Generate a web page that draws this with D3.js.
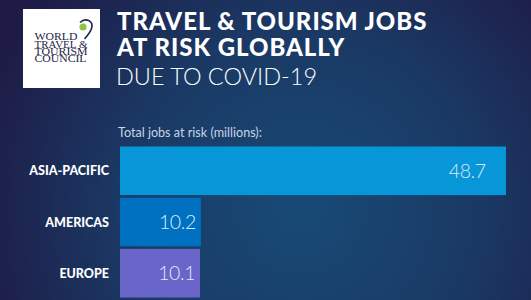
<!DOCTYPE html>
<html>
<head>
<meta charset="utf-8">
<script src="https://cdn.jsdelivr.net/npm/d3@7"></script>
<style>
  html, body { margin: 0; padding: 0; background: #1c1f48; }
  svg { display: block; }
</style>
</head>
<body>
<svg id="chart" width="531" height="300"></svg>
<script>
// Regions and jobs at risk (millions)
const regions = ["ASIA-PACIFIC", "AMERICAS", "EUROPE"];
const jobsAtRisk = [48.7, 10.2, 10.1];
const barColors = ["#0796d7", "#0070c0", "#6a65c8"];

const titleLines = ["TRAVEL & TOURISM JOBS", "AT RISK GLOBALLY"];
const subTitle = "DUE TO COVID-19";
const measureLabel = "Total jobs at risk (millions):";
const logoLines = ["WORLD", "TRAVEL &", "TOURISM", "COUNCIL"];
const logoLineWidths = [43, 53, 53, 52];

const W = 531, H = 300;
const svg = d3.select("#chart");

// Background: deep navy with a blue glow toward the lower middle
const defs = svg.append("defs");
const bg = defs.append("radialGradient")
  .attr("id", "bgGlow")
  .attr("gradientUnits", "userSpaceOnUse")
  .attr("cx", 300).attr("cy", 210).attr("r", 330);
bg.append("stop").attr("offset", 0).attr("stop-color", "#184a76");
bg.append("stop").attr("offset", 0.55).attr("stop-color", "#1a3964");
bg.append("stop").attr("offset", 1).attr("stop-color", "#1e1c47");
svg.append("rect").attr("width", W).attr("height", H).attr("fill", "url(#bgGlow)");

// Logo
const logo = svg.append("g");
logo.append("rect").attr("x", 23).attr("y", 9).attr("width", 77).attr("height", 79).attr("fill", "#ffffff");
logo.append("circle").attr("cx", 83).attr("cy", 27).attr("r", 3.6).attr("fill", "#8cc63f");
logo.append("path")
  .attr("d", "M80,22.5 C85,17.5 94,20 91.5,28.5 C90.5,32 88,35 84.5,39")
  .attr("fill", "none").attr("stroke", "#1d2545").attr("stroke-width", 1.6);
const logoText = logo.append("text")
  .attr("font-family", "Liberation Serif, serif")
  .attr("font-size", 10.6)
  .attr("fill", "#1d2545");
logoText.selectAll("tspan").data(logoLines).join("tspan")
  .attr("x", 34.5)
  .attr("y", (d, i) => 40.3 + i * 7.3)
  .attr("textLength", (d, i) => logoLineWidths[i])
  .attr("lengthAdjust", "spacingAndGlyphs")
  .text(d => d);

// Title block
svg.selectAll("text.title").data(titleLines).join("text")
  .attr("class", "title")
  .attr("x", 117)
  .attr("y", (d, i) => 30 + i * 26)
  .attr("font-family", "Lato, sans-serif")
  .attr("font-weight", 900)
  .attr("font-size", 24)
  .attr("letter-spacing", 0.95)
  .attr("fill", "#ffffff")
  .text(d => d);
svg.append("text")
  .attr("x", 116)
  .attr("y", 85)
  .attr("font-family", "Lato, sans-serif")
  .attr("font-weight", 300)
  .attr("font-size", 23.5)
  .attr("fill", "#ffffff")
  .text(subTitle);

svg.append("text")
  .attr("x", 118)
  .attr("y", 137)
  .attr("font-family", "Lato, sans-serif")
  .attr("font-weight", 400)
  .attr("font-size", 12.6)
  .attr("fill", "#c9d4e4")
  .text(measureLabel);

// Scales
const x = d3.scaleLinear().domain([0, d3.max(jobsAtRisk)]).range([120, 506]);
const y = d3.scaleBand().domain(regions).range([146.5, 297.5]).paddingInner(0.05).paddingOuter(0);

const rows = regions.map((r, i) => ({ region: r, value: jobsAtRisk[i], color: barColors[i] }));

svg.selectAll("rect.bar").data(rows).join("rect")
  .attr("class", "bar")
  .attr("x", x(0))
  .attr("y", d => y(d.region))
  .attr("width", d => x(d.value) - x(0))
  .attr("height", y.bandwidth())
  .attr("fill", d => d.color);

// Region labels
svg.selectAll("text.cat").data(rows).join("text")
  .attr("class", "cat")
  .attr("x", 109)
  .attr("y", d => y(d.region) + y.bandwidth() / 2 + 4.5)
  .attr("text-anchor", "end")
  .attr("font-family", "Lato, sans-serif")
  .attr("font-weight", 900)
  .attr("font-size", 12.5)
  .attr("fill", "#ffffff")
  .text(d => d.region);

// Value labels inside the bars
svg.selectAll("text.val").data(rows).join("text")
  .attr("class", "val")
  .attr("x", d => x(d.value) - 0.05 * (x(d.value) - x(0)) - 1)
  .attr("y", d => y(d.region) + y.bandwidth() / 2 + 7)
  .attr("text-anchor", "end")
  .attr("font-family", "Lato, sans-serif")
  .attr("font-weight", 300)
  .attr("font-size", 19.5)
  .attr("letter-spacing", -0.4)
  .attr("fill", "#dcebf8")
  .text(d => d.value.toFixed(1));
</script>
</body>
</html>
